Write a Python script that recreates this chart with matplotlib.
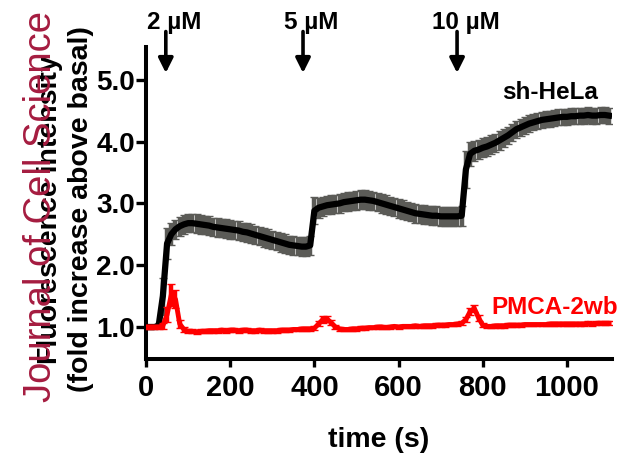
import matplotlib
matplotlib.use("Agg")
from matplotlib import pyplot as plt

# time points (s)
time_s = list(range(0, 1101, 10))

# sh-HeLa mean and SEM (fold increase above basal)
hela_mean = [1.00, 1.00, 1.00, 1.02, 1.50, 2.35, 2.50, 2.58, 2.63, 2.66,
             2.68, 2.68, 2.67, 2.66, 2.65, 2.64, 2.62, 2.61, 2.60, 2.59,
             2.58, 2.57, 2.56, 2.54, 2.53, 2.51, 2.49, 2.47, 2.45, 2.43,
             2.41, 2.39, 2.37, 2.35, 2.33, 2.32, 2.31, 2.30, 2.30, 2.32,
             2.88, 2.93, 2.95, 2.97, 2.98, 2.99, 3.00, 3.02, 3.03, 3.04,
             3.05, 3.06, 3.06, 3.05, 3.04, 3.02, 3.00, 2.98, 2.96, 2.94,
             2.92, 2.90, 2.88, 2.86, 2.84, 2.83, 2.82, 2.81, 2.80, 2.80,
             2.79, 2.79, 2.79, 2.79, 2.79, 2.80, 3.55, 3.80, 3.85, 3.87,
             3.90, 3.92, 3.95, 3.98, 4.02, 4.06, 4.10, 4.15, 4.20, 4.23,
             4.26, 4.29, 4.31, 4.33, 4.35, 4.36, 4.37, 4.38, 4.39, 4.40,
             4.40, 4.41, 4.41, 4.42, 4.42, 4.43, 4.42, 4.42, 4.43, 4.43,
             4.42]
hela_sem = [0.03, 0.03, 0.03, 0.04, 0.30, 0.25, 0.18, 0.15, 0.15, 0.15,
            0.15, 0.15, 0.15, 0.15, 0.15, 0.15, 0.15, 0.15, 0.15, 0.15,
            0.15, 0.15, 0.15, 0.15, 0.15, 0.15, 0.15, 0.15, 0.15, 0.15,
            0.15, 0.15, 0.15, 0.15, 0.15, 0.15, 0.15, 0.15, 0.15, 0.16,
            0.22, 0.16, 0.15, 0.15, 0.15, 0.15, 0.15, 0.15, 0.15, 0.15,
            0.15, 0.15, 0.15, 0.15, 0.15, 0.15, 0.15, 0.15, 0.15, 0.15,
            0.15, 0.15, 0.15, 0.15, 0.15, 0.15, 0.15, 0.15, 0.15, 0.15,
            0.15, 0.15, 0.15, 0.15, 0.15, 0.16, 0.30, 0.20, 0.16, 0.15,
            0.15, 0.15, 0.15, 0.15, 0.15, 0.15, 0.14, 0.14, 0.14, 0.14,
            0.14, 0.14, 0.13, 0.13, 0.13, 0.13, 0.13, 0.13, 0.13, 0.13,
            0.13, 0.13, 0.13, 0.13, 0.13, 0.13, 0.13, 0.13, 0.13, 0.13,
            0.13]

# PMCA-2wb mean and SEM
pmca_mean = [1.00, 1.00, 1.00, 1.00, 1.02, 1.20, 1.52, 1.45, 1.05, 0.96,
             0.93, 0.93, 0.92, 0.93, 0.93, 0.94, 0.94, 0.94, 0.95, 0.94,
             0.95, 0.95, 0.94, 0.95, 0.95, 0.94, 0.94, 0.95, 0.94, 0.94,
             0.94, 0.94, 0.95, 0.95, 0.95, 0.96, 0.96, 0.97, 0.97, 0.97,
             0.98, 1.05, 1.12, 1.13, 1.07, 1.00, 0.97, 0.96, 0.96, 0.97,
             0.97, 0.98, 0.98, 0.99, 0.99, 1.00, 1.00, 0.99, 1.00, 1.01,
             1.00, 1.01, 1.01, 1.01, 1.02, 1.01, 1.02, 1.02, 1.02, 1.03,
             1.03, 1.03, 1.04, 1.04, 1.05, 1.06, 1.12, 1.25, 1.30, 1.15,
             1.03, 1.01, 1.01, 1.02, 1.02, 1.02, 1.03, 1.03, 1.03, 1.03,
             1.04, 1.04, 1.04, 1.04, 1.04, 1.04, 1.05, 1.05, 1.05, 1.05,
             1.05, 1.05, 1.05, 1.05, 1.05, 1.06, 1.05, 1.06, 1.06, 1.06,
             1.06]
pmca_sem = [0.03, 0.03, 0.03, 0.03, 0.05, 0.12, 0.18, 0.15, 0.06, 0.04,
            0.03, 0.03, 0.03, 0.03, 0.03, 0.03, 0.03, 0.03, 0.03, 0.03,
            0.03, 0.03, 0.03, 0.03, 0.03, 0.03, 0.03, 0.03, 0.03, 0.03,
            0.03, 0.03, 0.03, 0.03, 0.03, 0.03, 0.03, 0.03, 0.03, 0.03,
            0.03, 0.04, 0.05, 0.05, 0.04, 0.03, 0.03, 0.03, 0.03, 0.03,
            0.03, 0.03, 0.03, 0.03, 0.03, 0.03, 0.03, 0.03, 0.03, 0.03,
            0.03, 0.03, 0.03, 0.03, 0.03, 0.03, 0.03, 0.03, 0.03, 0.03,
            0.03, 0.03, 0.03, 0.03, 0.03, 0.03, 0.04, 0.06, 0.06, 0.05,
            0.03, 0.03, 0.03, 0.03, 0.03, 0.03, 0.03, 0.03, 0.03, 0.03,
            0.03, 0.03, 0.03, 0.03, 0.03, 0.03, 0.03, 0.03, 0.03, 0.03,
            0.03, 0.03, 0.03, 0.03, 0.03, 0.03, 0.03, 0.03, 0.03, 0.03,
            0.03]

# agonist additions
dose_labels = ["2 µM", "5 µM", "10 µM"]
dose_times = [47, 373, 739]
x_ticks = [0, 200, 400, 600, 800, 1000]
y_ticks = [1.0, 2.0, 3.0, 4.0, 5.0]

plt.rcParams['font.family'] = ['Liberation Sans', 'DejaVu Sans']

fig = plt.figure(figsize=(6.27, 4.55), dpi=100)
ax = fig.add_axes([0.2329, 0.211, 0.7431, 0.6857])

ax.errorbar(time_s, hela_mean, yerr=hela_sem, color='black', lw=4.5,
            ecolor='#5b5b57', elinewidth=3.2, capsize=3, capthick=1, zorder=2)
ax.errorbar(time_s, pmca_mean, yerr=pmca_sem, color='#ff0000', lw=3.5,
            ecolor='#ff0000', elinewidth=3.2, capsize=3, capthick=1, zorder=3)

ax.set_xlim(0, 1107)
ax.set_ylim(0.482, 5.53)
ax.set_xticks(x_ticks)
ax.set_yticks(y_ticks)
ax.set_yticklabels([f"{v:.1f}" for v in y_ticks])

for side in ['top', 'right']:
    ax.spines[side].set_visible(False)
for side in ['left', 'bottom']:
    ax.spines[side].set_linewidth(2.9)

ax.tick_params(axis='x', direction='out', length=6, width=2.4, pad=5,
               labelsize=21)
ax.tick_params(axis='y', direction='out', length=7, width=2.4, pad=1,
               labelsize=20)
for lab in ax.get_xticklabels() + ax.get_yticklabels():
    lab.set_fontweight('bold')

ax.set_xlabel("time (s)", fontsize=20.5, fontweight='bold', labelpad=18)
ax.set_ylabel("Fluorescence intensity\n(fold increase above basal)",
              fontsize=20.5, fontweight='bold', linespacing=1.25)
ax.yaxis.set_label_coords(-0.112, 0.48)

# arrows marking additions
for lab, t in zip(dose_labels, dose_times):
    ax.annotate('', xy=(t, 5.11), xytext=(t, 5.78), annotation_clip=False,
                arrowprops=dict(arrowstyle='-|>', lw=2.6, color='black',
                                mutation_scale=22, shrinkA=0, shrinkB=0))
    ax.text(t + 20, 5.93, lab, ha='center', va='center', fontsize=17.5,
            fontweight='bold', clip_on=False)

ax.text(960, 4.8, "sh-HeLa", ha='center', va='center', fontsize=17.5,
        fontweight='bold')
ax.text(971, 1.32, "PMCA-2wb", ha='center', va='center', fontsize=17.5,
        fontweight='bold', color='#ff0000')

# journal watermark
fig.text(41 / 627, 1 - 402 / 455, "Journal of Cell Science •", rotation=90,
         ha='center', va='bottom', fontsize=27.5, color='#a51c40', zorder=10)

fig.savefig("out.png", dpi=100)
